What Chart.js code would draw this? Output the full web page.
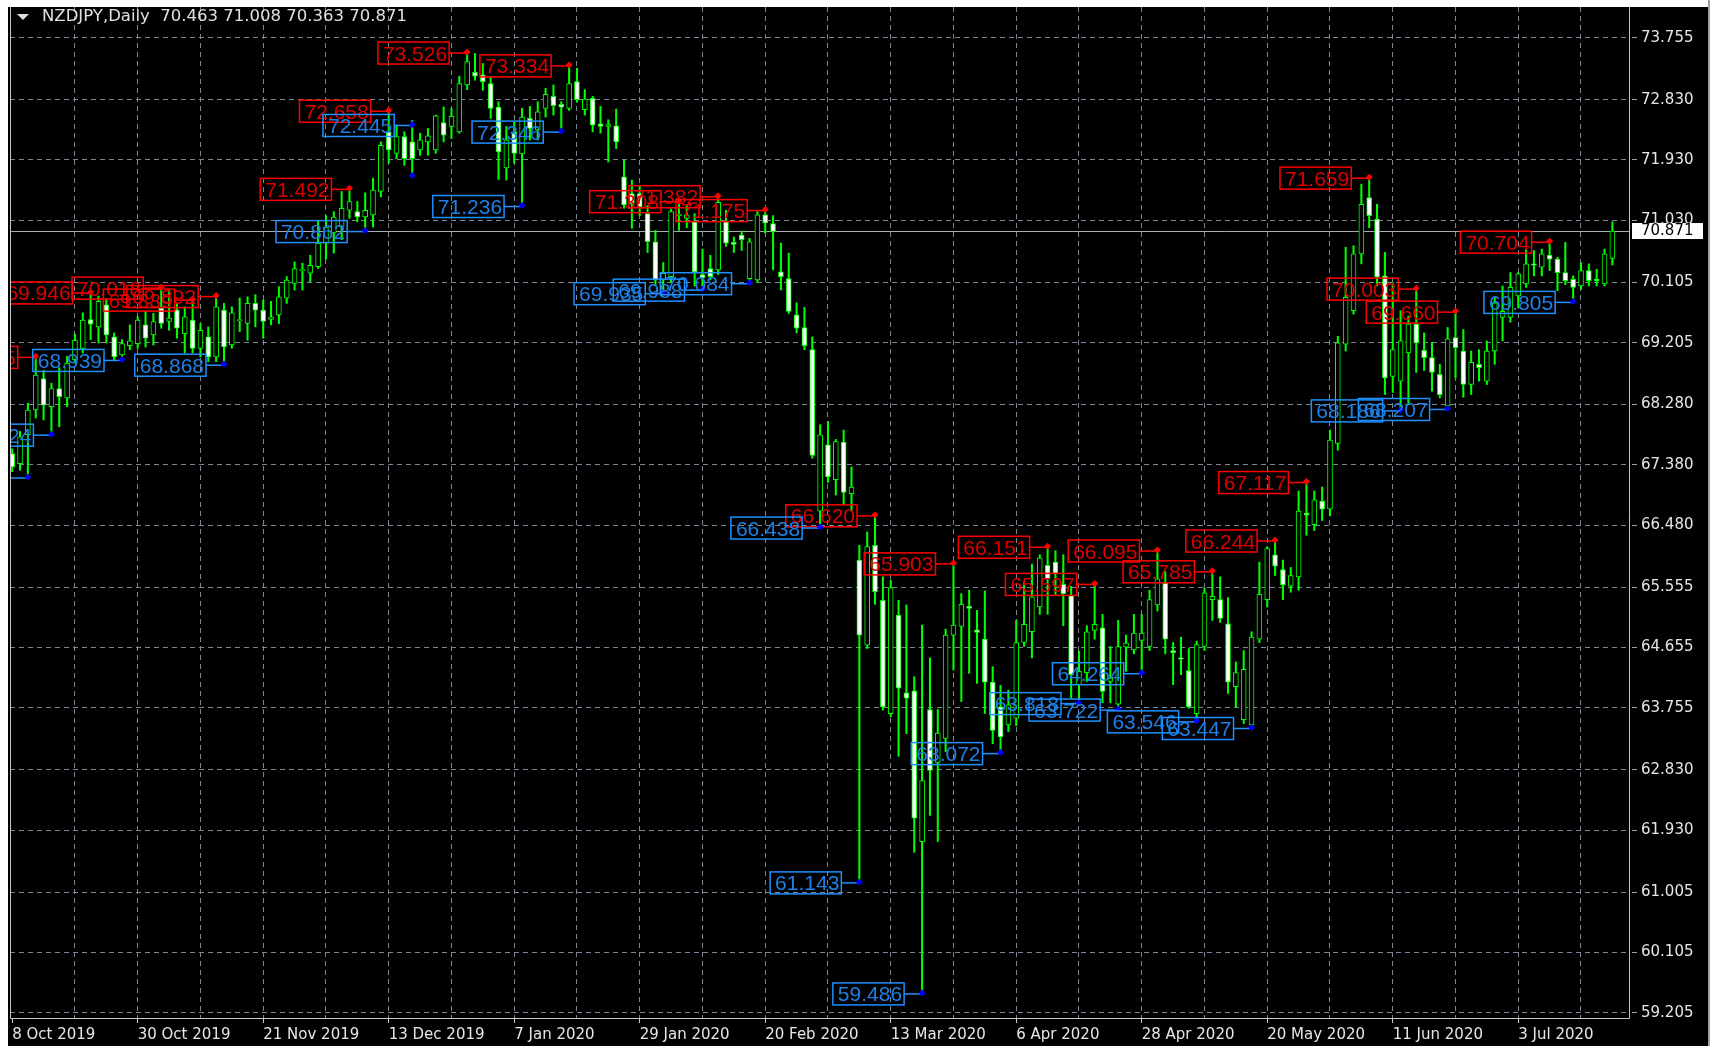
<!DOCTYPE html>
<html><head><meta charset="utf-8">
<script src="https://cdn.jsdelivr.net/npm/chart.js@4/dist/chart.umd.min.js"></script>
<style>html,body{margin:0;padding:0;background:#fff;overflow:hidden}
#wrap{position:absolute;left:0;top:0;width:1715px;height:1046px}</style>
</head><body><div id="wrap"><canvas id="c" width="1715" height="1046"></canvas></div>
<script>
// ---- data (daily bars, index 0 = 8 Oct 2019) ----
const openP = [
67.55,67.40,67.83,68.20,68.67,68.25,68.52,68.38,68.95,69.12,
69.55,69.44,69.77,69.29,69.02,69.16,69.19,69.47,69.32,69.72,
69.52,69.69,69.34,69.54,69.12,69.29,68.99,69.69,69.17,69.53,
69.49,69.79,69.69,69.55,69.62,69.87,70.09,70.28,70.24,70.34,
70.69,70.84,70.94,71.18,71.16,71.08,71.11,71.46,72.35,72.03,
72.28,72.20,72.08,72.20,72.08,72.49,72.43,72.35,73.05,73.24,
73.20,73.07,72.72,71.81,72.35,72.02,72.55,72.38,72.70,72.88,
72.76,72.70,73.10,72.68,72.85,72.47,72.43,72.44,71.68,71.43,
71.43,71.13,70.71,70.14,70.19,71.10,71.06,71.01,70.22,70.31,
70.29,71.01,70.70,70.81,70.16,70.14,71.11,70.98,70.26,70.16,
69.62,69.43,69.10,66.69,67.68,67.16,67.72,66.95,65.96,64.69,
66.18,65.36,63.67,65.14,63.98,64.01,61.76,63.73,62.94,63.30,
64.84,64.97,65.27,64.92,64.78,64.14,63.77,63.50,63.60,64.73,
64.89,65.26,65.88,65.93,65.60,65.43,64.10,64.28,64.91,64.95,
64.15,63.81,64.66,64.62,64.76,64.67,65.29,65.62,64.61,64.50,
64.31,63.67,64.67,65.37,65.37,65.01,64.07,63.58,63.50,64.78,
65.37,66.04,65.82,65.57,65.71,66.66,66.49,66.84,66.72,67.70,
69.18,69.68,70.53,71.37,71.05,70.20,68.70,68.63,69.05,69.48,
69.09,68.98,68.73,68.26,69.28,69.08,68.58,68.88,68.63,69.08,
69.58,69.58,69.90,70.08,70.38,70.33,70.51,70.45,70.25,70.15,
70.05,70.28,70.15,70.08,70.463];
const highP = [
67.62,67.88,68.30,68.985,68.79,68.60,68.83,69.00,69.33,69.65,
69.946,69.90,69.86,69.35,69.25,69.47,69.59,69.67,69.64,70.018,
69.99,69.79,69.74,69.839,69.49,69.44,69.892,69.79,69.74,69.87,
69.89,69.92,69.84,69.82,70.04,70.19,70.41,70.39,70.51,71.03,
71.10,71.16,71.46,71.492,71.31,71.44,71.66,72.20,72.658,72.45,
72.35,72.52,72.33,72.40,72.60,72.72,72.70,73.18,73.526,73.52,
73.37,73.17,72.80,72.43,72.50,72.70,72.73,72.80,73.00,73.05,
72.80,73.334,73.30,72.98,72.88,72.73,72.53,72.69,71.93,71.63,
71.55,71.25,70.88,70.40,71.20,71.308,71.25,71.13,70.60,70.51,
71.382,71.18,70.78,70.87,70.76,71.16,71.175,71.10,70.69,70.54,
69.80,69.73,69.29,67.98,68.03,67.76,67.90,67.35,66.18,66.38,
66.620,65.71,65.66,65.36,65.29,64.22,64.99,64.50,63.73,64.93,
65.903,65.46,65.51,65.21,65.50,64.37,64.09,64.02,65.06,65.62,
65.90,66.04,66.151,66.10,66.04,65.57,64.60,64.98,65.597,65.15,
64.67,65.06,64.84,65.15,65.15,65.51,66.095,65.79,64.73,64.81,
64.64,64.75,65.54,65.785,65.71,65.40,64.44,64.61,64.89,65.93,
66.16,66.244,65.96,65.85,66.99,67.117,66.99,67.05,67.90,69.30,
70.63,70.65,71.57,71.659,71.27,70.55,70.10,69.68,69.60,70.003,
69.35,69.21,68.88,69.43,69.660,69.40,69.08,69.10,69.23,69.88,
70.05,70.25,70.25,70.60,70.58,70.60,70.704,70.48,70.70,70.20,
70.40,70.38,70.30,70.60,71.008];
const lowP = [
67.28,67.30,67.185,68.08,68.05,67.824,67.95,68.25,68.90,69.05,
69.25,69.20,69.20,68.95,68.939,69.10,69.12,69.14,69.17,69.42,
69.39,69.27,69.05,69.05,68.99,68.92,68.92,68.868,69.12,69.37,
69.24,69.44,69.27,69.47,69.49,69.79,69.99,69.99,70.11,70.31,
70.45,70.54,70.74,71.06,71.01,70.862,70.93,71.38,71.88,71.95,
71.85,71.70,72.00,72.00,72.03,72.20,72.25,72.33,72.98,73.12,
72.97,72.55,71.64,71.63,71.88,71.236,72.23,72.23,72.57,72.60,
72.346,72.67,72.79,72.60,72.35,72.33,71.90,72.10,71.21,70.91,
71.10,70.55,70.06,69.935,70.10,70.88,70.92,70.05,69.988,70.14,
70.22,70.64,70.55,70.58,70.084,70.10,70.84,70.29,69.99,69.64,
69.35,69.10,67.48,66.438,67.12,66.93,66.79,66.69,61.143,64.64,
65.30,63.72,63.62,63.03,63.37,61.60,59.486,62.15,61.76,63.10,
64.32,63.85,64.27,64.12,63.67,63.22,63.072,63.40,63.49,64.67,
64.50,65.15,65.15,65.45,64.98,63.90,63.818,64.15,64.78,63.83,
63.83,63.722,64.30,64.56,64.264,64.61,65.20,64.56,64.10,64.25,
63.75,63.546,64.61,65.06,65.03,63.97,63.77,63.52,63.447,64.73,
65.26,65.73,65.37,65.48,65.51,66.33,66.40,66.55,66.62,67.60,
69.08,69.63,70.38,70.92,70.05,68.43,68.46,68.186,68.28,68.76,
68.79,68.48,68.38,68.207,68.68,68.39,68.43,68.63,68.58,68.88,
69.23,69.51,69.73,70.03,70.20,70.20,70.28,69.98,70.07,69.805,
70.00,70.05,70.05,70.05,70.363];
const closeP = [
67.35,67.80,68.20,68.72,68.27,68.52,68.40,68.90,69.24,69.54,
69.48,69.82,69.32,68.99,69.19,69.23,69.54,69.27,69.52,69.49,
69.57,69.42,69.59,69.12,69.39,68.99,69.74,69.14,69.65,69.55,
69.79,69.69,69.52,69.59,69.89,70.14,70.31,70.29,70.36,70.69,
70.93,71.08,71.21,71.31,71.08,71.18,71.48,72.15,72.08,72.28,
71.95,71.95,72.23,72.29,72.59,72.30,72.58,73.07,73.40,73.18,
73.10,72.70,72.05,72.23,72.03,72.57,72.40,72.65,72.91,72.74,
72.72,73.07,72.83,72.84,72.45,72.43,72.46,72.20,71.26,71.28,
71.23,70.71,70.14,70.24,71.16,71.12,71.11,70.26,70.17,70.19,
71.30,70.69,70.67,70.74,70.71,71.11,70.99,70.86,70.19,69.67,
69.42,69.16,67.52,67.83,67.20,67.73,66.97,67.05,64.84,66.16,
65.49,63.77,65.55,64.05,63.90,62.11,62.67,62.82,63.38,64.84,
64.99,65.30,65.24,64.88,64.14,63.42,63.32,63.80,64.73,65.00,
65.41,65.99,65.68,65.76,65.46,64.25,64.30,64.89,65.00,64.00,
64.20,64.67,64.72,64.87,64.87,65.37,65.68,64.78,64.58,64.48,
63.77,64.70,65.47,65.42,65.09,64.14,64.28,64.33,64.81,65.45,
66.13,65.87,65.59,65.73,66.69,66.63,66.86,66.72,67.75,69.20,
69.88,70.53,71.27,71.10,70.18,68.68,69.10,69.23,69.48,69.20,
68.98,68.76,68.43,69.26,69.13,68.58,68.91,68.83,69.08,69.80,
69.67,70.03,70.23,70.38,70.36,70.53,70.45,70.25,70.13,70.03,
70.28,70.13,70.13,70.53,70.871];

const dateTickBars = [0,16,32,48,64,80,96,112,128,144,160,176,192];
const dateTickLabels = ['8 Oct 2019','30 Oct 2019','21 Nov 2019','13 Dec 2019','7 Jan 2020','29 Jan 2020','20 Feb 2020','13 Mar 2020','6 Apr 2020','28 Apr 2020','20 May 2020','11 Jun 2020','3 Jul 2020'];
const gridBars = [0,8,16,24,32,40,48,56,64,72,80,88,96,104,112,120,128,136,144,152,160,168,176,184,192,200];
const priceTicks = [73.755,72.830,71.930,71.030,70.105,69.205,68.280,67.380,66.480,65.555,64.655,63.755,62.830,61.930,61.005,60.105,59.205];

const highMarkBar = [3,10,19,23,26,43,48,58,71,85,90,96,110,120,132,138,146,153,161,165,173,179,184,196];
const highMarkVal = [68.985,69.946,70.018,69.839,69.892,71.492,72.658,73.526,73.334,71.308,71.382,71.175,66.620,65.903,66.151,65.597,66.095,65.785,66.244,67.117,71.659,70.003,69.660,70.704];
const lowMarkBar = [2,5,14,27,45,51,65,70,83,88,94,103,108,116,126,136,141,144,151,158,177,183,199];
const lowMarkVal = [67.185,67.824,68.939,68.868,70.862,72.445,71.236,72.346,69.935,69.988,70.084,66.438,61.143,59.486,63.072,63.818,63.722,64.264,63.546,63.447,68.186,68.207,69.805];
const lowDotBar = [51];
const lowDotVal = [71.70];

const symbolName = 'NZDJPY';
const periodName = 'Daily';
const lastIdx = closeP.length - 1;
const lastClose = closeP[lastIdx];

// ---- chart ----
Chart.defaults.font.family = 'DejaVu Sans';
const GREEN = '#00ff00';
const GRID = '#7b8794';

const wickData = lowP.map((l, i) => ({x: i, y: [l, highP[i]]}));
const bodyData = openP.map((o, i) => ({x: i, y: [o, closeP[i]]}));
const bodyFill = openP.map((o, i) => closeP[i] >= o ? '#000000' : '#ffffff');

function drawDiamond(ctx, x, y, c) {
  ctx.fillStyle = c; ctx.beginPath();
  ctx.moveTo(x, y - 3.5); ctx.lineTo(x + 3.5, y); ctx.lineTo(x, y + 3.5); ctx.lineTo(x - 3.5, y);
  ctx.closePath(); ctx.fill();
}
function drawMark(ctx, xs, ys, bar, val, boxColor, textColor, dotColor) {
  const px = xs.getPixelForValue(bar);
  const py = ys.getPixelForValue(val);
  const txt = val.toFixed(3);
  ctx.font = '21px "Liberation Sans"';
  const w = ctx.measureText(txt).width;
  const bx2 = px - 18, bx1 = bx2 - w - 7;
  ctx.strokeStyle = boxColor; ctx.lineWidth = 1.5;
  ctx.strokeRect(bx1, py - 11, bx2 - bx1, 22);
  ctx.beginPath(); ctx.moveTo(bx2, py); ctx.lineTo(px, py); ctx.stroke();
  ctx.fillStyle = textColor; ctx.textAlign = 'left'; ctx.textBaseline = 'alphabetic';
  ctx.fillText(txt, bx1 + 5, py + 7.5);
  drawDiamond(ctx, px, py - 1, dotColor);
}
function noPad(s) { s.paddingTop = 0; s.paddingBottom = 0; s.paddingLeft = 0; s.paddingRight = 0; }

const decor = {
  id: 'decor',
  beforeDraw(chart) {
    const ctx = chart.ctx;
    ctx.save();
    ctx.fillStyle = '#ffffff'; ctx.fillRect(0, 0, 1715, 1046);
    ctx.fillStyle = '#000000'; ctx.fillRect(8, 7, 1700, 1039);
    ctx.restore();
  },
  beforeDatasetsDraw(chart) {
    const {ctx, chartArea: a, scales: {y}} = chart;
    const py = Math.round(y.getPixelForValue(lastClose)) + 0.5;
    ctx.save(); ctx.strokeStyle = '#a8acb0'; ctx.lineWidth = 1;
    ctx.beginPath(); ctx.moveTo(a.left, py); ctx.lineTo(a.right, py); ctx.stroke();
    ctx.restore();
  },
  afterDatasetsDraw(chart) {
    const {ctx, chartArea: a, scales: {x, y}} = chart;
    ctx.save();
    ctx.beginPath(); ctx.rect(a.left + 1, a.top, a.right - a.left - 1, a.bottom - a.top); ctx.clip();
    for (let k = 0; k < lowDotBar.length; k++) {
      drawDiamond(ctx, x.getPixelForValue(lowDotBar[k]), y.getPixelForValue(lowDotVal[k]), '#0000ff');
    }
    for (let k = 0; k < highMarkBar.length; k++) {
      drawMark(ctx, x, y, highMarkBar[k], highMarkVal[k], '#ff0000', '#dd0000', '#ff0000');
    }
    for (let k = 0; k < lowMarkBar.length; k++) {
      drawMark(ctx, x, y, lowMarkBar[k], lowMarkVal[k], '#1e90ff', '#1e80e6', '#0000ff');
    }
    ctx.restore();
  },
  afterDraw(chart) {
    const {ctx, chartArea: a, scales: {y}} = chart;
    ctx.save();
    ctx.strokeStyle = '#c8c8c8'; ctx.lineWidth = 1;
    ctx.beginPath();
    ctx.moveTo(a.left + 0.5, a.top); ctx.lineTo(a.left + 0.5, a.bottom + 0.5);
    ctx.lineTo(a.right + 0.5, a.bottom + 0.5); ctx.lineTo(a.right + 0.5, a.top);
    ctx.stroke();
    ctx.fillStyle = '#a0a0a0'; ctx.fillRect(1708, 0, 2, 1046);
    ctx.fillStyle = '#e0e0e0';
    ctx.beginPath(); ctx.moveTo(17, 14); ctx.lineTo(29, 14); ctx.lineTo(23, 20); ctx.closePath(); ctx.fill();
    ctx.font = '16.5px "DejaVu Sans"'; ctx.textBaseline = 'middle'; ctx.textAlign = 'left';
    const t = symbolName + ',' + periodName + '  ' + [openP[lastIdx], highP[lastIdx], lowP[lastIdx], closeP[lastIdx]].map(v => v.toFixed(3)).join(' ');
    ctx.fillText(t, 42, 17);
    const py = Math.round(y.getPixelForValue(lastClose));
    ctx.fillStyle = '#ffffff'; ctx.fillRect(1632, py - 8, 71, 16);
    ctx.fillStyle = '#000000'; ctx.font = '15px "DejaVu Sans"';
    ctx.fillText(lastClose.toFixed(3), 1641, py + 0.5);
    ctx.restore();
  }
};

new Chart(document.getElementById('c'), {
  type: 'bar',
  data: {
    datasets: [
      {label: 'wick', data: wickData, backgroundColor: GREEN, borderWidth: 0, barThickness: 1.4, grouped: false, order: 2},
      {label: 'body', data: bodyData, backgroundColor: bodyFill, borderColor: GREEN, borderWidth: 1, borderSkipped: false, barThickness: 5, minBarLength: 1, grouped: false, order: 1}
    ]
  },
  options: {
    responsive: false, animation: false, devicePixelRatio: 1, events: [],
    layout: {autoPadding: false, padding: {left: 10, top: 7, right: 0, bottom: 0}},
    plugins: {legend: {display: false}, tooltip: {enabled: false}},
    scales: {
      x: {
        type: 'linear', min: -0.28, max: 206.12, offset: false,
        afterBuildTicks: s => { s.ticks = gridBars.map(v => ({value: v})); },
        afterFit: s => { s.height = 28; noPad(s); },
        grid: {
          offset: false, lineWidth: 1, drawTicks: true, tickLength: 5, tickBorderDash: [],
          color: c => (c.tick && c.tick.value === 0) ? 'rgba(0,0,0,0)' : GRID,
          tickColor: c => (c.tick && dateTickBars.includes(c.tick.value)) ? '#c8c8c8' : 'rgba(0,0,0,0)'
        },
        border: {display: false, dash: [5, 4]},
        ticks: {
          autoSkip: false, maxRotation: 0, minRotation: 0, align: 'start', padding: 3,
          color: '#e6e6e6', font: {size: 15},
          callback: v => { const k = dateTickBars.indexOf(v); return k >= 0 ? dateTickLabels[k] : ''; }
        }
      },
      y: {
        type: 'linear', position: 'right', min: 59.127, max: 74.213, beginAtZero: false,
        afterBuildTicks: s => { s.ticks = priceTicks.map(v => ({value: v})); },
        afterFit: s => { s.width = 86; noPad(s); },
        grid: {lineWidth: 1, color: GRID, drawTicks: true, tickLength: 8, tickColor: '#9aa0a8', tickBorderDash: [0, 3, 5, 2]},
        border: {display: false, dash: [5, 4]},
        ticks: {color: '#e6e6e6', font: {size: 15}, padding: 4, callback: v => Number(v).toFixed(3)}
      }
    }
  },
  plugins: [decor]
});
</script>
</body></html>
